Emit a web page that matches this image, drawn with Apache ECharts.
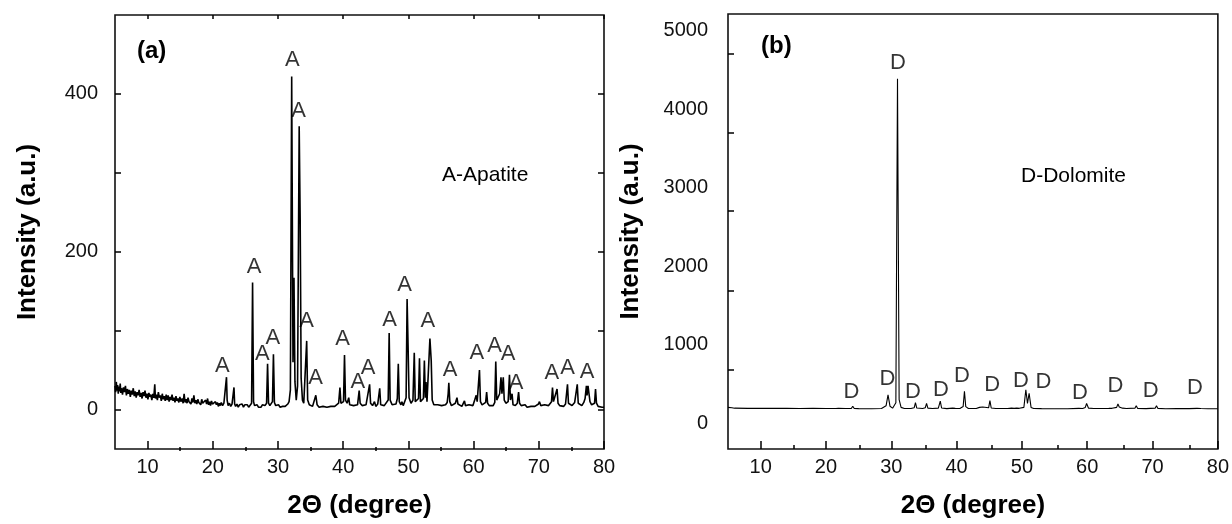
<!DOCTYPE html>
<html>
<head>
<meta charset="utf-8">
<script src="https://cdn.jsdelivr.net/npm/echarts@6/dist/echarts.min.js"></script>
<style>
    html, body { margin: 0; padding: 0; background: #fff; }
    #xrdChart { width: 1232px; height: 524px; }
</style>
</head>
<body>
<div id="xrdChart"></div>
<script>
// shared 2θ axis
const thetaMin = 5;
const thetaMax = 80;
const thetaMajor = [10, 20, 30, 40, 50, 60, 70, 80];
const thetaMinor = [15, 25, 35, 45, 55, 65, 75];

// (a) apatite sample
const yRangeA = [-50, 500];
const yTicksA = [0, 100, 200, 300, 400];
const yLabelsA = [0, 200, 400];
const traceA = [
    [5.0, 30], [5.1, 22], [5.2, 35], [5.3, 24], [5.4, 31], [5.5, 20], [5.6, 29], [5.7, 23], [5.8, 33], [5.9, 21],
    [6.0, 27], [6.15, 19], [6.3, 28], [6.45, 22], [6.6, 30], [6.75, 18], [6.9, 26], [7.05, 20], [7.2, 25], [7.35, 16],
    [7.5, 24], [7.65, 19], [7.8, 27], [7.95, 17], [8.1, 23], [8.25, 15], [8.4, 22], [8.55, 18], [8.7, 25], [8.85, 16],
    [9.0, 21], [9.15, 14], [9.3, 22], [9.45, 17], [9.6, 24], [9.75, 15], [9.9, 20], [10.05, 13], [10.2, 21], [10.35, 16],
    [10.5, 19], [10.65, 12], [10.8, 20], [10.95, 15], [11.1, 32], [11.2, 14], [11.35, 19], [11.5, 12], [11.65, 22], [11.8, 15],
    [11.95, 18], [12.1, 11], [12.25, 20], [12.4, 13], [12.55, 17], [12.7, 11], [12.85, 19], [13.0, 12], [13.15, 18], [13.3, 10],
    [13.45, 16], [13.6, 12], [13.75, 19], [13.9, 11], [14.05, 15], [14.2, 9], [14.35, 17], [14.5, 11], [14.65, 14], [14.8, 9],
    [14.95, 16], [15.1, 10], [15.3, 14], [15.45, 8], [15.6, 20], [15.75, 9], [15.9, 13], [16.05, 8], [16.2, 15], [16.35, 10],
    [16.5, 12], [16.65, 7], [16.8, 14], [16.95, 9], [17.1, 18], [17.25, 8], [17.4, 12], [17.55, 7], [17.7, 13], [17.85, 9],
    [18.0, 11], [18.15, 6], [18.3, 13], [18.45, 8], [18.6, 10], [18.75, 6], [18.9, 12], [19.05, 7], [19.2, 14], [19.35, 6],
    [19.5, 10], [19.65, 5], [19.8, 11], [19.95, 7], [20.1, 9], [20.25, 5], [20.4, 10], [20.55, 6], [20.7, 9], [20.85, 4],
    [21.0, 8], [21.15, 5], [21.3, 9], [21.5, 5], [21.7, 8], [21.9, 6], [22.0, 10], [22.1, 41], [22.2, 12], [22.35, 5],
    [22.55, 8], [22.75, 4], [22.95, 7], [23.1, 6], [23.25, 28], [23.35, 7], [23.5, 4], [23.7, 7], [23.9, 3], [24.1, 6],
    [24.3, 4], [24.5, 7], [24.7, 3], [24.9, 6], [25.1, 4], [25.3, 6], [25.5, 3], [25.7, 5], [25.95, 8], [26.1, 161],
    [26.25, 10], [26.4, 5], [26.6, 4], [26.8, 6], [27.0, 3], [27.2, 5], [27.4, 3], [27.6, 6], [27.8, 4], [28.0, 5],
    [28.25, 8], [28.4, 58], [28.55, 8], [28.75, 5], [28.95, 6], [29.15, 10], [29.3, 70], [29.45, 9], [29.65, 5], [29.9, 4],
    [30.1, 6], [30.3, 3], [30.5, 5], [30.7, 4], [30.9, 6], [31.1, 4], [31.3, 5], [31.5, 7], [31.7, 10], [31.9, 25],
    [32.1, 422], [32.3, 60], [32.45, 167], [32.6, 35], [32.8, 12], [33.0, 30], [33.25, 359], [33.4, 242], [33.55, 40], [33.75, 12],
    [33.95, 8], [34.15, 10], [34.4, 87], [34.55, 12], [34.8, 6], [35.0, 5], [35.3, 4], [35.6, 6], [35.8, 18], [36.0, 6],
    [36.3, 3], [36.6, 5], [36.9, 4], [37.2, 6], [37.5, 3], [37.8, 5], [38.1, 4], [38.4, 6], [38.7, 4], [39.0, 6],
    [39.3, 8], [39.5, 28], [39.65, 8], [39.9, 6], [40.05, 10], [40.2, 69], [40.35, 12], [40.6, 8], [40.85, 15], [41.0, 6],
    [41.3, 4], [41.6, 5], [41.9, 3], [42.2, 6], [42.45, 24], [42.6, 8], [42.9, 5], [43.2, 4], [43.5, 6], [43.8, 8],
    [44.05, 32], [44.2, 8], [44.5, 5], [44.8, 10], [45.0, 4], [45.3, 7], [45.6, 27], [45.75, 6], [46.0, 4], [46.3, 5],
    [46.6, 6], [46.9, 12], [47.05, 97], [47.2, 12], [47.5, 6], [47.8, 5], [48.1, 7], [48.3, 14], [48.45, 58], [48.6, 10],
    [48.85, 6], [49.0, 10], [49.2, 5], [49.45, 7], [49.65, 15], [49.8, 140], [49.95, 81], [50.1, 15], [50.4, 8], [50.7, 12],
    [50.9, 72], [51.05, 10], [51.3, 8], [51.55, 14], [51.7, 65], [51.85, 10], [52.1, 9], [52.3, 14], [52.45, 62], [52.6, 15],
    [52.7, 35], [52.85, 10], [53.1, 12], [53.3, 90], [53.5, 62], [53.65, 12], [53.9, 6], [54.2, 5], [54.5, 6], [54.8, 4],
    [55.1, 5], [55.4, 4], [55.7, 6], [55.95, 9], [56.1, 20], [56.2, 34], [56.35, 10], [56.6, 5], [56.9, 6], [57.2, 8],
    [57.45, 15], [57.6, 7], [57.9, 5], [58.2, 4], [58.4, 6], [58.6, 11], [58.75, 5], [59.0, 4], [59.3, 6], [59.6, 4],
    [59.9, 5], [60.2, 7], [60.4, 18], [60.55, 10], [60.9, 50], [61.05, 10], [61.3, 6], [61.6, 5], [61.85, 9], [62.0, 22],
    [62.15, 8], [62.4, 5], [62.7, 6], [63.0, 5], [63.25, 9], [63.4, 61], [63.55, 12], [63.8, 10], [64.0, 20], [64.2, 41],
    [64.35, 20], [64.55, 41], [64.7, 12], [64.95, 8], [65.3, 10], [65.5, 44], [65.65, 12], [65.9, 20], [66.05, 6], [66.4, 5],
    [66.7, 8], [66.9, 22], [67.05, 8], [67.3, 5], [67.6, 4], [67.9, 6], [68.2, 3], [68.5, 5], [68.8, 4], [69.1, 6],
    [69.4, 4], [69.7, 5], [69.95, 7], [70.1, 10], [70.3, 5], [70.6, 4], [70.9, 6], [71.2, 4], [71.5, 5], [71.8, 7],
    [71.95, 10], [72.1, 28], [72.25, 10], [72.55, 8], [72.8, 26], [72.95, 8], [73.2, 5], [73.5, 6], [73.8, 4], [74.1, 7],
    [74.4, 32], [74.55, 8], [74.8, 6], [75.1, 5], [75.5, 9], [75.9, 32], [76.05, 8], [76.3, 6], [76.6, 5], [76.9, 9],
    [77.1, 14], [77.3, 30], [77.4, 18], [77.55, 30], [77.7, 20], [77.85, 10], [78.1, 6], [78.4, 5], [78.55, 8], [78.7, 26],
    [78.85, 8], [79.1, 4], [79.4, 5], [79.7, 3], [80.0, 3]
];
const peakLabelsA = [
    [21.45, 55], [26.35, 181], [27.6, 70], [29.2, 91], [32.2, 443], [33.15, 378], [34.4, 112], [35.75, 40],
    [39.9, 89], [42.25, 35], [43.8, 53], [47.1, 114], [49.4, 158], [53.0, 112], [56.4, 50], [60.5, 72],
    [63.2, 80], [65.3, 70], [66.5, 34], [72.0, 46], [74.4, 53], [77.4, 48]
];

// (b) dolomite sample
const yRangeB = [-330, 5210];
const yTicksB = [680, 1690, 2700, 3700, 4710];
const yLabelsB = [0, 1000, 2000, 3000, 4000, 5000];
const traceB = [
    [5.0, 200], [5.3, 192], [5.6, 196], [6.0, 190], [8.0, 188], [10.0, 189], [12.0, 187], [14.0, 188], [16.0, 186],
    [18.0, 187], [20.0, 185], [21.5, 186], [21.9, 188], [22.0, 205], [22.2, 186], [23.0, 185], [23.9, 188], [24.1, 215],
    [24.3, 188], [25.0, 184], [27.0, 183], [28.5, 185], [29.2, 220], [29.5, 360], [29.8, 215], [30.2, 190], [30.7, 260],
    [30.95, 4385], [31.2, 300], [31.5, 200], [32.0, 186], [33.0, 185], [33.5, 195], [33.7, 260], [33.9, 192], [34.8, 185],
    [35.2, 195], [35.4, 250], [35.6, 190], [36.3, 185], [37.2, 190], [37.5, 280], [37.7, 192], [38.5, 184], [39.4, 190],
    [39.6, 205], [39.8, 187], [40.5, 186], [41.0, 210], [41.2, 405], [41.4, 210], [41.8, 186], [43.0, 185], [43.5, 200],
    [43.7, 188], [44.0, 205], [44.2, 186], [44.9, 195], [45.1, 285], [45.3, 192], [46.0, 185], [47.3, 186], [47.6, 200],
    [47.8, 186], [48.4, 190], [48.6, 202], [48.8, 188], [49.2, 190], [49.4, 205], [49.6, 188], [50.3, 200], [50.6, 425],
    [50.85, 250], [51.1, 380], [51.4, 200], [51.8, 186], [53.0, 184], [55.0, 183], [57.0, 183], [58.7, 188], [59.0, 205],
    [59.3, 186], [59.7, 200], [59.9, 250], [60.2, 190], [61.0, 185], [63.3, 187], [63.6, 210], [63.8, 188], [64.5, 200],
    [64.7, 245], [64.9, 205], [65.1, 220], [65.4, 190], [66.0, 185], [67.3, 190], [67.5, 220], [67.7, 188], [69.0, 184],
    [70.4, 190], [70.6, 220], [70.8, 188], [72.0, 183], [73.7, 186], [73.9, 195], [74.1, 184], [75.2, 186], [75.4, 198],
    [75.6, 184], [76.8, 188], [77.1, 205], [77.4, 186], [78.5, 183], [80.0, 182]
];
const peakLabelsB = [
    [23.9, 402], [29.4, 560], [31.0, 4585], [33.3, 402], [37.6, 424], [40.8, 602], [45.45, 488],
    [49.85, 543], [53.3, 530], [58.9, 382], [64.3, 475], [69.7, 415], [76.5, 445]
];

const textFont = 'Liberation Sans, Arial, sans-serif';
const narrowFont = 'Liberation Sans Narrow, Arial Narrow, Liberation Sans, sans-serif';

// plot boxes: panel (a), panel (b); the overlay grids only carry the minor 2θ ticks
const boxA = { left: 115, top: 15, width: 489, height: 436 };
const boxB = { left: 728, top: 14, width: 495, height: 435 };

function plainNumber(v) {
    return String(v);
}

function thetaAxis(gridIndex, ticks, tickLen, withLabels, position) {
    return {
        type: 'value',
        gridIndex: gridIndex,
        position: position || 'bottom',
        min: thetaMin,
        max: thetaMax,
        axisLine: { show: false, onZero: false },
        splitLine: { show: false },
        axisTick: { show: true, inside: true, length: tickLen, customValues: ticks, lineStyle: { color: '#000', width: 1.5 } },
        axisLabel: withLabels ? {
            show: true, customValues: thetaMajor, margin: 8, formatter: plainNumber,
            fontSize: 20, color: '#111', fontFamily: textFont
        } : { show: false },
        name: withLabels ? '2\u0398 (degree)' : '',
        nameLocation: 'middle',
        nameGap: 44,
        nameTextStyle: { fontSize: 26, fontWeight: 'bold', color: '#000', fontFamily: textFont }
    };
}

function intensityAxis(gridIndex, range, ticks, labels, labelMargin, nameGap, position) {
    let withLabels = !!labels;
    return {
        type: 'value',
        gridIndex: gridIndex,
        position: position || 'left',
        min: range[0],
        max: range[1],
        axisLine: { show: false, onZero: false },
        splitLine: { show: false },
        axisTick: { show: true, inside: true, length: 6, customValues: ticks, lineStyle: { color: '#000', width: 1.5 } },
        axisLabel: withLabels ? {
            show: true, customValues: labels, margin: labelMargin, formatter: plainNumber,
            fontSize: 20, color: '#111', fontFamily: textFont
        } : { show: false },
        name: withLabels ? 'Intensity (a.u.)' : '',
        nameLocation: 'middle',
        nameGap: nameGap,
        nameRotate: 90,
        nameTextStyle: { fontSize: 26, fontWeight: 'bold', color: '#000', fontFamily: textFont }
    };
}

function hiddenAxis(gridIndex) {
    return { type: 'value', gridIndex: gridIndex, show: false, min: 0, max: 1 };
}

function peakLetters(letter, data, xIndex, yIndex) {
    return {
        type: 'scatter',
        xAxisIndex: xIndex,
        yAxisIndex: yIndex,
        data: data,
        symbolSize: 0,
        silent: true,
        label: {
            show: true, position: 'inside', formatter: letter,
            fontSize: 22, color: '#000', fontFamily: narrowFont
        }
    };
}

let chart = echarts.init(document.getElementById('xrdChart'));
chart.setOption({
    animation: false,
    backgroundColor: '#fff',
    grid: [
        Object.assign({ show: true, borderColor: '#111', borderWidth: 1.6 }, boxA),
        Object.assign({ show: true, borderColor: '#111', borderWidth: 1.6 }, boxB),
        Object.assign({}, boxA),
        Object.assign({}, boxB)
    ],
    xAxis: [
        thetaAxis(0, thetaMajor, 8, true),
        thetaAxis(0, thetaMajor, 4, false, 'top'),
        thetaAxis(1, thetaMajor, 8, true),
        thetaAxis(2, thetaMinor, 4, false),
        thetaAxis(3, thetaMinor, 4, false)
    ],
    yAxis: [
        intensityAxis(0, yRangeA, yTicksA, yLabelsA, 17, 74),
        intensityAxis(0, yRangeA, yTicksA, null, 0, 0, 'right'),
        intensityAxis(1, yRangeB, yTicksB, yLabelsB, 20, 84),
        hiddenAxis(2),
        hiddenAxis(3)
    ],
    graphic: [
        { type: 'text', x: 137, y: 51, style: { text: '(a)', font: 'bold 24px ' + textFont, fill: '#000', verticalAlign: 'middle' } },
        { type: 'text', x: 442, y: 175, style: { text: 'A-Apatite', font: '21px ' + textFont, fill: '#000', verticalAlign: 'middle' } },
        { type: 'text', x: 761, y: 46, style: { text: '(b)', font: 'bold 24px ' + textFont, fill: '#000', verticalAlign: 'middle' } },
        { type: 'text', x: 1021, y: 176, style: { text: 'D-Dolomite', font: '21px ' + textFont, fill: '#000', verticalAlign: 'middle' } }
    ],
    series: [
        {
            type: 'line', xAxisIndex: 0, yAxisIndex: 0, data: traceA,
            showSymbol: false, silent: true,
            lineStyle: { color: '#000', width: 1.6 }
        },
        peakLetters('A', peakLabelsA, 0, 0),
        {
            type: 'line', xAxisIndex: 2, yAxisIndex: 2, data: traceB,
            showSymbol: false, silent: true,
            lineStyle: { color: '#000', width: 1.1 }
        },
        peakLetters('D', peakLabelsB, 2, 2)
    ]
});
</script>
</body>
</html>
